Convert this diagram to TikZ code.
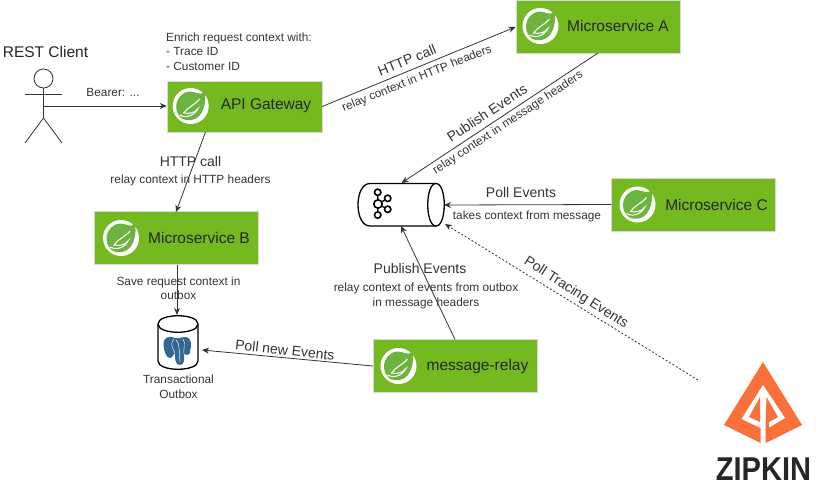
\documentclass[tikz,border=0pt]{standalone}
\usepackage{fontspec}
\setmainfont{Liberation Sans}
\usepackage{tikz}
\usetikzlibrary{arrows.meta}

\definecolor{springgreen}{HTML}{74B91F}
\definecolor{leafgreen}{HTML}{6DB33F}
\definecolor{labelgray}{HTML}{333333}
\definecolor{zipkinorange}{HTML}{F9703A}
\definecolor{pgblue}{HTML}{336791}

\tikzset{
	service/.style={draw=white!85!black, fill=springgreen, minimum width=164pt, minimum height=53pt, inner sep=0pt},
	svclabel/.style={font=\fontsize{15.5}{19}\selectfont, text=black!85},
	biglabel/.style={font=\fontsize{14}{16}\selectfont, text=labelgray, inner sep=0pt},
	smalllabel/.style={font=\fontsize{11.85}{14.5}\selectfont, text=labelgray, inner sep=0pt, align=center},
	flow/.style={draw=black!80, line width=0.8pt, -{Stealth[length=7pt,width=6pt]}},
	tracing/.style={flow, dashed, dash pattern=on 2pt off 2pt},
	actor/.style={draw=black!80, line width=0.8pt},
	barrel/.style={draw=black, line width=1.3pt},
	springlogo/.pic={
		\fill[white] (0,0) circle (18);
		\fill[leafgreen] (14,-14) .. controls (9,-10) and (5,-14.5) .. (-1,-14.5)
			.. controls (-9,-14) and (-14.5,-7) .. (-14.5,1)
			.. controls (-14.5,6) and (-12,10) .. (-8,13)
			.. controls (-3,15.5) and (5,14.5) .. (9,9.5)
			.. controls (14,3) and (15.5,-6) .. (14,-14) -- cycle;
		\draw[white, line width=1pt] (-11,9) .. controls (-7,12) and (3,11) .. (7,3)
			.. controls (4,7) and (-2,8) .. (-7,7)
			.. controls (-3,1) and (4,-1) .. (9,-7);
	}
}

\begin{document}
\begin{tikzpicture}[x=1pt,y=-1pt]
	\useasboundingbox (0,0) rectangle (830,488);

	% services
	\node[service, minimum width=155pt, minimum height=51pt] (gateway) at (244.5,106.5) {};
	\node[service] (serviceA) at (598,26.5) {};
	\node[service] (serviceB) at (176,238) {};
	\node[service] (serviceC) at (693.5,204.5) {};
	\node[service] (relay) at (455,366) {};

	% logos
	\foreach \x/\y in {190.7/106,540.5/26,121/238,637.5/204.5,398.5/366}
		\pic at (\x,\y) {springlogo};

	\node[svclabel] (gatewaytext) at (266,106) {API Gateway};
	\node[svclabel] (serviceAtext) at (618,26) {Microservice A};
	\node[svclabel] (serviceBtext) at (199,238) {Microservice B};
	\node[svclabel] (serviceCtext) at (716.5,204.5) {Microservice C};
	\node[svclabel] (relaytext) at (477.5,366) {message-relay};

	% actor
	\node[font=\fontsize{15.5}{19}\selectfont, text=black!85, inner sep=0pt] (clienttext) at (45.5,51.5) {REST Client};
	\node[actor, circle, minimum size=19pt, inner sep=0pt] (head) at (43.5,78.5) {};
	\coordinate (neck) at (43.5,88);
	\coordinate (hip) at (43.5,118);
	\coordinate (hand) at (43.5,106);
	\draw[actor] (neck) -- (hip) -- (25,143);
	\draw[actor] (hip) -- (62,143);
	\draw[actor] (25,94) -- (62,94);

	% kafka
	\coordinate (kafkaE) at (444,205);
	\coordinate (kafkaN) at (401.5,183);
	\coordinate (kafkaS) at (401,226);
	\coordinate (kafkaD) at (445,224);
	\draw[barrel] (436,183.5) -- (370,183.5) .. controls (354,183.5) and (354,226) .. (370,226) -- (436,226);
	\draw[barrel] (436,183.5) .. controls (447,183.5) and (447,226) .. (436,226)
		.. controls (425,226) and (425,183.5) .. (436,183.5) -- cycle;
	\foreach \x/\y in {377.7/192.3,387.7/198.3,387.7/209.3,377.7/215}
		\draw[barrel] (378,204) -- (\x,\y);
	\draw[barrel, line width=1.6pt, fill=white] (378,204) circle (4.2);
	\foreach \x/\y in {377.7/192.3,387.7/198.3,387.7/209.3,377.7/215}
		\draw[barrel, line width=1.6pt, fill=white] (\x,\y) circle (3.2);

	% postgres
	\coordinate (outboxN) at (177,315);
	\coordinate (outboxE) at (202,350);
	\draw[barrel] (158,324) -- (158,361) .. controls (158,372) and (198,372) .. (198,361) -- (198,324);
	\draw[barrel] (158,324) .. controls (158,313) and (198,313) .. (198,324)
		.. controls (198,335) and (158,335) .. (158,324) -- cycle;
	\fill[pgblue] (175,338) .. controls (168,335) and (163,338) .. (163.5,345)
		.. controls (164,351) and (166,358) .. (170,358)
		.. controls (173,358) and (173,354) .. (175,353)
		.. controls (175,359) and (175,365) .. (180,365)
		.. controls (185,365) and (184,358) .. (184,354)
		.. controls (188,356) and (191,354) .. (190,351)
		.. controls (192,346) and (192,337) .. (185,337)
		.. controls (182,337) and (178,339) .. (175,338) -- cycle;
	\draw[white, line width=0.45pt] (175,353) .. controls (172,347) and (170,343) .. (174,339)
		(184,354) .. controls (183,349) and (186,343) .. (183,339)
		(176,340) .. controls (180,343) and (179,352) .. (180,362);
	\node[smalllabel] (outboxtext) at (178.5,387) {Transactional\\Outbox};

	% zipkin
	\coordinate (zipkinD) at (698,380);
	\fill[zipkinorange] (763,362) -- (802,425) -- (765.7,443) -- (760.7,443) -- (724,425) -- cycle;
	\fill[white] (763,385) -- (741.5,419) -- (760.7,428) -- (760.7,443.5) -- (765.7,443.5) -- (765.7,428.5) -- (770,427) -- (785,418) -- cycle;
	\fill[zipkinorange] (760,397) -- (749,417) -- (760,422) -- cycle;
	\fill[zipkinorange] (766.5,397) -- (778,417) -- (769,422) -- (769,428) -- (765.7,429) -- (765.7,420) -- cycle;
	\node[font=\fontsize{33}{36}\selectfont\bfseries, text=black!85, inner sep=0pt, xscale=0.88] (zipkintext) at (763.5,469) {ZIPKIN};

	% connectors
	\draw[flow] (hand) -- (gateway.west |- hand);
	\draw[flow] (gateway.east) -- (515.5,27);
	\draw[flow] (205.5,132) -- (176,212);
	\draw[flow] (598,53) -- (kafkaN);
	\draw[flow] (serviceC.west) -- (kafkaE);
	\draw[flow] (177,264.5) -- (outboxN);
	\draw[flow] (455,339.5) -- (kafkaS);
	\draw[flow] (relay.west) -- (outboxE);
	\draw[tracing] (zipkinD) -- (kafkaD);

	% labels
	\node[smalllabel] (bearertext) at (113,92) {Bearer: ...};
	\node[smalllabel, align=left, anchor=west] (enrichtext) at (166,51.5) {Enrich request context with:\\- Trace ID\\- Customer ID};
	\node[biglabel, rotate=22] (calltextA) at (407,60) {HTTP call};
	\node[smalllabel, rotate=22] (relaytextA) at (417,79) {relay context in HTTP headers};
	\node[biglabel] (calltextB) at (190.5,161) {HTTP call};
	\node[smalllabel] (relaytextB) at (190.5,180) {relay context in HTTP headers};
	\node[biglabel, rotate=33.5] (publishtextA) at (487,113) {Publish Events};
	\node[smalllabel, rotate=33.5] (relaytextC) at (508,123) {relay context in message headers};
	\node[biglabel] (polltext) at (521,192.5) {Poll Events};
	\node[smalllabel] (takestext) at (527,216) {takes context from message};
	\node[biglabel, rotate=-32.5] (tracingtext) at (576,293) {Poll Tracing Events};
	\node[smalllabel] (savetext) at (178.5,288.5) {Save request context in\\outbox};
	\node[biglabel, rotate=-6.5] (polltextB) at (285,350) {Poll new Events};
	\node[biglabel] (publishtextB) at (420,268.5) {Publish Events};
	\node[smalllabel] (relaytextD) at (426,296) {relay context of events from outbox\\in message headers};
\end{tikzpicture}
\end{document}
